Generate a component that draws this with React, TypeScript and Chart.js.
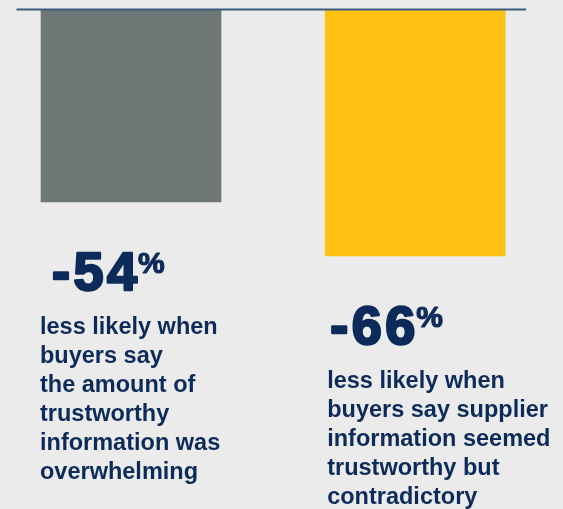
import React, { useEffect, useRef } from "react";
import { Chart, registerables } from "chart.js";

Chart.register(...registerables);

// ---- data ----
const categories = ["Overwhelming amount of trustworthy information", "Trustworthy but contradictory information"];
const xPositions = [0, 1];
const values = [-54, -66];
const captions: string[][] = [
  ["less likely when", "buyers say", "the amount of", "trustworthy", "information was", "overwhelming"],
  ["less likely when", "buyers say supplier", "information seemed", "trustworthy but", "contradictory"],
];

// ---- styles ----
const BG = "#ebebeb";
const NAVY = "#0c2b5b";
const AXIS = "#3d5a80";
const barColors = ["#6f7877", "#fdc212"];
const numberOffsetX = [11, 5];
const captionOffsetX = [-1, 2];
const FONT = '"Liberation Sans", Arial, sans-serif';

const labelPlugin = {
  id: "labels",
  afterDatasetsDraw(chart: any) {
    const ctx = chart.ctx;
    const area = chart.chartArea;
    const yScale = chart.scales.y;
    ctx.save();
    // axis line at the top (scale max)
    const yTop = yScale.getPixelForValue(yScale.max);
    ctx.strokeStyle = AXIS;
    ctx.lineWidth = 2;
    ctx.beginPath();
    ctx.moveTo(area.left, yTop);
    ctx.lineTo(area.right, yTop);
    ctx.stroke();

    const meta = chart.getDatasetMeta(0);
    meta.data.forEach((bar: any, i: number) => {
      const { x, y, width } = bar.getProps(["x", "y", "width"], true);
      const left = x - width / 2;
      const numBase = y + 89.5;
      ctx.fillStyle = NAVY;
      ctx.strokeStyle = NAVY;
      ctx.lineJoin = "round";
      ctx.textBaseline = "alphabetic";
      ctx.textAlign = "left";
      ctx.font = `bold 54px ${FONT}`;
      (ctx as any).letterSpacing = "3.5px";
      const numText = String(values[i]);
      const nx = left + numberOffsetX[i];
      ctx.lineWidth = 2.5;
      ctx.strokeText(numText, nx, numBase - 1);
      ctx.fillText(numText, nx, numBase - 1);
      const w = ctx.measureText(numText).width;
      (ctx as any).letterSpacing = "0px";
      ctx.font = `bold 30px ${FONT}`;
      ctx.lineWidth = 1.2;
      ctx.strokeText("%", nx + w - 2.5, numBase - 18.5);
      ctx.fillText("%", nx + w - 2.5, numBase - 18.5);
      ctx.font = `bold 23.5px ${FONT}`;
      captions[i].forEach((line, j) => {
        ctx.fillText(line, left + captionOffsetX[i], numBase + 42.5 + j * 29);
      });
    });
    ctx.restore();
  },
};

export default function App() {
  const ref = useRef<HTMLCanvasElement | null>(null);
  useEffect(() => {
    document.body.style.margin = "0";
    document.body.style.background = BG;
    const canvas = ref.current!;
    const chart = new Chart(canvas, {
      type: "bar",
      data: {
        labels: categories,
        datasets: [
          {
            data: xPositions.map((x, i) => ({ x, y: values[i] })),
            backgroundColor: barColors,
            borderWidth: 0,
            barThickness: 180,
          },
        ],
      },
      options: {
        animation: false,
        responsive: false,
        devicePixelRatio: 1,
        layout: { padding: { left: 16.5, right: 37, top: 9.6, bottom: 49 } },
        plugins: { legend: { display: false }, tooltip: { enabled: false } },
        scales: {
          x: { type: "linear", min: -0.403, max: 1.39, offset: false, display: false },
          y: { type: "linear", min: -111.3, max: -11.3, display: false },
        },
      },
      plugins: [labelPlugin],
    });
    return () => chart.destroy();
  }, []);
  return (
    <div style={{ position: "absolute", left: 0, top: 0, width: 563, height: 509, background: BG }}>
      <canvas ref={ref} width={563} height={509} style={{ display: "block" }} />
    </div>
  );
}
